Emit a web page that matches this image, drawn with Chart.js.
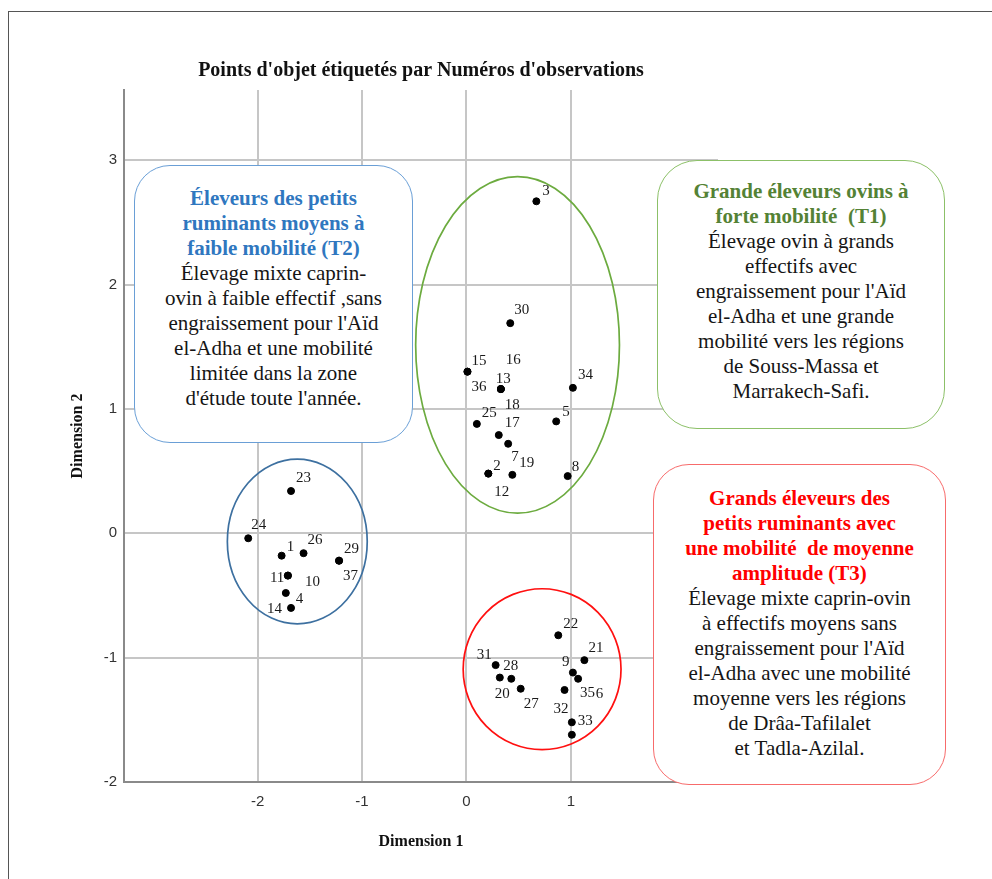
<!DOCTYPE html>
<html>
<head>
<meta charset="utf-8">
<script src="https://cdn.jsdelivr.net/npm/chart.js@4/dist/chart.umd.min.js"></script>
<style>
  html, body { margin: 0; padding: 0; background: #fff; }
  #wrap { position: relative; width: 992px; height: 879px; overflow: hidden; }
  #frame { position: absolute; left: 8px; top: 11px; width: 990px; height: 880px;
           border-left: 1px solid #555; border-top: 1px solid #555; pointer-events: none; }
  canvas { position: absolute; left: 0; top: 0; }
  .box { position: absolute; box-sizing: border-box; background: #fff; border: 1.5px solid;
         border-radius: 36px; text-align: center; font-family: "Liberation Serif", "Times New Roman", serif;
         font-size: 21px; line-height: 25px; color: #151515; white-space: nowrap; }
  .box b { font-weight: bold; }
</style>
</head>
<body>
<div id="wrap">
  <canvas id="c" width="992" height="879"></canvas>
  <div id="frame"></div>
  <div class="box" style="left:134px;top:165px;width:279px;height:278px;border-color:#6a9fd6;padding-top:19.5px;">
    <b style="color:#2f77bf">Éleveurs des petits<br>ruminants moyens à<br>faible mobilité&nbsp;(T2)</b><br>Élevage mixte caprin-<br>ovin à faible effectif ,sans<br>engraissement pour l'Aïd<br>el-Adha et une mobilité<br>limitée dans la zone<br>d'étude toute l'année.
  </div>
  <div class="box" style="left:657px;top:160px;width:288px;height:269px;border-color:#8cc068;border-radius:40px;padding-top:18px;">
    <b style="color:#548235">Grande éleveurs ovins à<br>forte mobilité&nbsp; (T1)</b><br>Élevage ovin à grands<br>effectifs avec<br>engraissement pour l'Aïd<br>el-Adha et une grande<br>mobilité vers les régions<br>de Souss-Massa et<br>Marrakech-Safi.
  </div>
  <div class="box" style="left:653px;top:464px;width:293px;height:321px;border-color:#f76b6b;padding-top:20.5px;">
    <b style="color:#ff0000">Grands éleveurs des<br>petits ruminants avec<br>une mobilité&nbsp; de moyenne<br>amplitude (T3)</b><br>Élevage mixte caprin-ovin<br>à effectifs moyens sans<br>engraissement pour l'Aïd<br>el-Adha avec une mobilité<br>moyenne vers les régions<br>de Drâa-Tafilalet<br>et Tadla-Azilal.
  </div>
</div>
<script>
// ---- Data ----
const obsLabels = ['1','2','3','4','5','6','7','8','9','10','11','12','13','14','15','16','17','18','19',
                   '20','21','22','23','24','25','26','27','28','29','30','31','32','33','34','35','36','37'];
const dim1 = [-1.77, 0.21, 0.67, -1.73, 0.86, 1.01, 0.40, 0.97, 1.02, -1.71, -1.71, 0.21, 0.33, -1.68, 0.01,
              0.33, 0.31, 0.33, 0.44, 0.32, 1.13, 0.88, -1.68, -2.09, 0.10, -1.56, 0.52, 0.43, -1.22, 0.42,
              0.28, 0.94, 1.01, 1.02, 1.07, 0.01, -1.22];
const dim2 = [-0.18, 0.48, 2.67, -0.48, 0.90, -1.62, 0.72, 0.46, -1.12, -0.34, -0.34, 0.48, 1.16, -0.60, 1.30,
              1.16, 0.79, 1.16, 0.47, -1.16, -1.02, -0.82, 0.34, -0.04, 0.88, -0.16, -1.25, -1.17, -0.22, 1.69,
              -1.06, -1.26, -1.52, 1.17, -1.17, 1.30, -0.22];
const xTickValues = [-2, -1, 0, 1];
const yTickValues = [-2, -1, 0, 1, 2, 3];

// ---- Cluster ellipses (data units) ----
const ellipseCenterX = [-1.62, 0.49, 0.725];
const ellipseCenterY = [-0.066, 1.515, -1.093];
const ellipseRadiusX = [0.67, 0.976, 0.756];
const ellipseRadiusY = [0.662, 1.353, 0.647];

// ---- Styles ----
const ellipseColors = ['#3d70a0', '#6cab3f', '#ff1010'];
// label placement: [dx, dy] in px from the point to the text's left baseline
const labelOffsets = [
  [5,-5],[5,-4],[6,-6],[10,10],[6,-5],[24,-37],[3,17],[4,-5],[-11,-7],[17,10],
  [-18,6],[6,22],[-5,-6],[-24,5],[4,-7],[5,-25],[6,-8],[4,20],[7,-8],[-5,20],
  [4,-8],[5,-7],[5,-9],[3,-9],[5,-7],[4,-9],[3,19],[-8,-9],[5,-8],[4,-9],
  [-19,-6],[-11,23],[6,3],[5,-9],[2,18],[4,19],[4,19]
];

const overlay = {
  id: 'overlay',
  beforeDatasetsDraw(chart) {
    const { ctx, scales: { x, y } } = chart;
    ellipseCenterX.forEach((cxv, i) => {
      const cx = x.getPixelForValue(cxv), cy = y.getPixelForValue(ellipseCenterY[i]);
      const rx = Math.abs(x.getPixelForValue(cxv + ellipseRadiusX[i]) - cx);
      const ry = Math.abs(y.getPixelForValue(ellipseCenterY[i] + ellipseRadiusY[i]) - cy);
      ctx.save();
      ctx.beginPath();
      ctx.ellipse(cx, cy, rx, ry, 0, 0, Math.PI * 2);
      ctx.strokeStyle = ellipseColors[i];
      ctx.lineWidth = 1.7;
      ctx.stroke();
      ctx.restore();
    });
  },
  afterDatasetsDraw(chart) {
    const { ctx } = chart;
    const meta = chart.getDatasetMeta(0);
    ctx.save();
    ctx.font = '15px "Liberation Serif", serif';
    ctx.fillStyle = '#1a1a1a';
    ctx.textAlign = 'left';
    ctx.textBaseline = 'alphabetic';
    meta.data.forEach((pt, i) => {
      const [dx, dy] = labelOffsets[i];
      ctx.fillText(obsLabels[i], pt.x + dx, pt.y + dy);
    });
    ctx.restore();
  }
};

new Chart(document.getElementById('c'), {
  type: 'scatter',
  data: {
    datasets: [{
      data: dim1.map((v, i) => ({ x: v, y: dim2[i] })),
      backgroundColor: '#000',
      borderColor: '#000',
      pointRadius: 3.5,
      pointHoverRadius: 3.5
    }]
  },
  plugins: [overlay],
  options: {
    responsive: false,
    animation: false,
    layout: { padding: { left: 0, right: 274, top: 40, bottom: 0 } },
    plugins: {
      legend: { display: false },
      tooltip: { enabled: false },
      title: {
        display: true,
        fullSize: false,
        text: "Points d'objet étiquetés par Numéros d'observations",
        color: '#111',
        font: { family: '"Liberation Serif", serif', size: 20, weight: 'bold', lineHeight: 1.2 },
        padding: { top: 19, bottom: 7 }
      }
    },
    scales: {
      x: {
        type: 'linear',
        min: -3.28, max: 2.41,
        afterBuildTicks: s => { s.ticks = xTickValues.map(v => ({ value: v })); },
        afterFit: s => { s.height = 97; },
        grid: { color: '#c6c6c6', lineWidth: 2, drawTicks: false },
        border: { color: '#8a8a8a', width: 2 },
        ticks: { color: '#333', padding: 11, font: { family: '"Liberation Sans", Arial, sans-serif', size: 15 } },
        title: {
          display: true, text: 'Dimension 1', color: '#111',
          font: { family: '"Liberation Serif", serif', size: 16, weight: 'bold', lineHeight: 1.2 },
          padding: { top: 0, bottom: 28 }
        }
      },
      y: {
        type: 'linear',
        min: -2, max: 3.565,
        afterBuildTicks: s => { s.ticks = yTickValues.map(v => ({ value: v })); },
        afterFit: s => { s.width = 124; },
        grid: { color: '#c6c6c6', lineWidth: 2, drawTicks: false },
        border: { color: '#8a8a8a', width: 2 },
        ticks: { color: '#333', padding: 7, font: { family: '"Liberation Sans", Arial, sans-serif', size: 15 } },
        title: {
          display: true, text: 'Dimension 2', color: '#111',
          font: { family: '"Liberation Serif", serif', size: 16, weight: 'bold', lineHeight: 1.2 },
          padding: { top: 68, bottom: 0 }
        }
      }
    }
  }
});
</script>
</body>
</html>
